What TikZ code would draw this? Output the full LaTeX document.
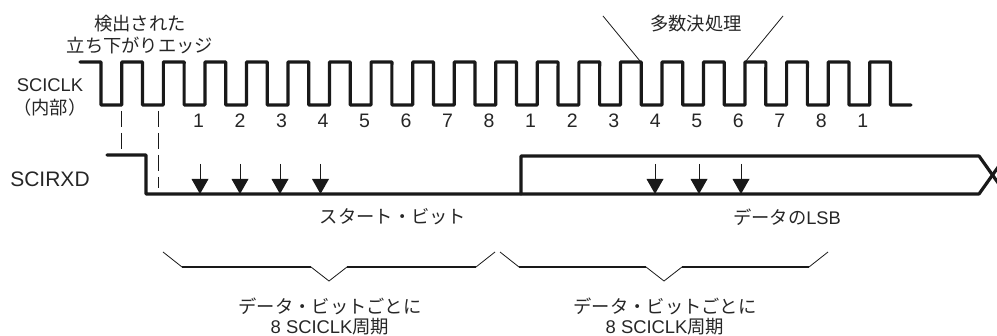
\documentclass[tikz,border=0pt]{standalone}
\usepackage{fontspec}
\setmainfont{Liberation Sans}
\newfontfamily\jp{Noto Sans CJK JP}
\tikzset{x=1pt,y=-1pt,
  lab/.style={inner sep=0pt,font=\fontsize{18.4}{20}\selectfont,text=black!85,align=center},
  biglab/.style={inner sep=0pt,font=\fontsize{21}{23}\selectfont,text=black!85},
  numlab/.style={inner sep=0pt,font=\fontsize{19.5}{21}\selectfont,text=black!85},
  jlab/.style={inner sep=0pt,font=\jp\fontsize{18.3}{20.5}\selectfont,text=black!85},
  sig/.style={line width=3.2pt,line join=round,line cap=round,black!90},
  thin/.style={line width=0.8pt,black!90},
  dsh/.style={line width=0.8pt,black!90,dash pattern=on 16pt off 6pt},
  braceb/.style={line width=2.4pt,black!90},
  head/.style={fill=black!90,draw=none}}
\newcommand{\downarr}[2]{%
  \coordinate (#1t) at (#2,164);\coordinate (#1b) at (#2,194);
  \draw[thin] (#1t) -- (#1b);
  \fill[head] (#2-8.5,179) -- (#2+8.5,179) -- (#1b) -- cycle;}
\newcommand{\bracket}[3]{%
  \draw[thin] (#1,252) -- (#1+19,267);
  \draw[braceb] (#1+19,267) -- (#2-18,267);
  \draw[thin] (#2-18,267) -- (#2,281) -- (#2+18,267);
  \draw[braceb] (#2+18,267) -- (#3-19,267);
  \draw[thin] (#3-19,267) -- (#3,252);}
\begin{document}
\begin{tikzpicture}
\useasboundingbox (0,0) rectangle (997,336);
\begin{scope}
\clip (0,0) rectangle (997,336);
% clock
\coordinate (cs) at (80,62);
\coordinate (ce) at (911,105);
\draw[sig] (cs) -- (101,62)
  -- (101,105) -- (121.8,105) -- (121.8,62) -- (142.6,62)
  \foreach \k in {1,...,18}{
    -- ({101+41.55*\k},105) -- ({121.8+41.55*\k},105) -- ({121.8+41.55*\k},62) -- ({142.6+41.55*\k},62)
  } -- (890.5,105) -- (ce);
% receive data line
\coordinate (r0) at (107,155);
\coordinate (r1) at (146,155);
\coordinate (r2) at (146,194);
\coordinate (r3) at (521,194);
\coordinate (r4) at (521,156);
\coordinate (r5) at (979,156);
\coordinate (r6) at (979,194);
\coordinate (x1) at (1006,194);
\coordinate (x2) at (1006,156);
\draw[sig] (r0) -- (r1) -- (r2) -- (r6) -- (x2);
\draw[sig] (r3) -- (r4) -- (r5) -- (x1);
\end{scope}
% dashed guides
\coordinate (d1t) at (121,111);
\coordinate (d1b) at (121,150);
\coordinate (d2t) at (158.7,111);
\coordinate (d2b) at (158.7,188);
\draw[dsh] (d1t) -- (d1b);
\draw[dsh] (d2t) -- (d2b);
% sampling arrows
\downarr{a1}{200}
\downarr{a2}{240}
\downarr{a3}{280}
\downarr{a4}{320.5}
\downarr{a5}{655}
\downarr{a6}{699}
\downarr{a7}{741}
% majority leaders
\coordinate (m1) at (603,16);
\coordinate (m2) at (640,61);
\coordinate (m3) at (783,16);
\coordinate (m4) at (746,61);
\draw[thin] (m1) -- (m2);
\draw[thin] (m3) -- (m4);
% brackets
\bracket{163}{329}{495}
\bracket{500}{664}{828}
% labels
\node[jlab] (t1) at (140,24) {検出された};
\node[jlab] (t2) at (140,45) {立ち下がりエッジ};
\node[lab] (t3) at (50,85) {SCICLK};
\node[jlab] (t4) at (50,108) {（内部）};
\node[biglab] (t5) at (50,179.5) {SCIRXD};
\node[jlab] (t6) at (696,24) {多数決処理};
\node[jlab] (t7) at (393,217) {スタート・ビット};
\node[jlab] (t8) at (787,217) {データの\fontspec{Liberation Sans}LSB};
\node[jlab] (t9) at (330,306) {データ・ビットごとに};
\node[lab,anchor=base] (t10) at (330,334) {8 SCICLK{\jp 周期}};
\node[jlab] (t11) at (665,306) {データ・ビットごとに};
\node[lab,anchor=base] (t12) at (665,334) {8 SCICLK{\jp 周期}};
% counts
\foreach \n [count=\i from 0] in {1,2,3,4,5,6,7,8,1,2,3,4,5,6,7,8,1}
  \node[numlab] (n\i) at ({198.5+41.52*\i},120.5) {\n};
\end{tikzpicture}
\end{document}
